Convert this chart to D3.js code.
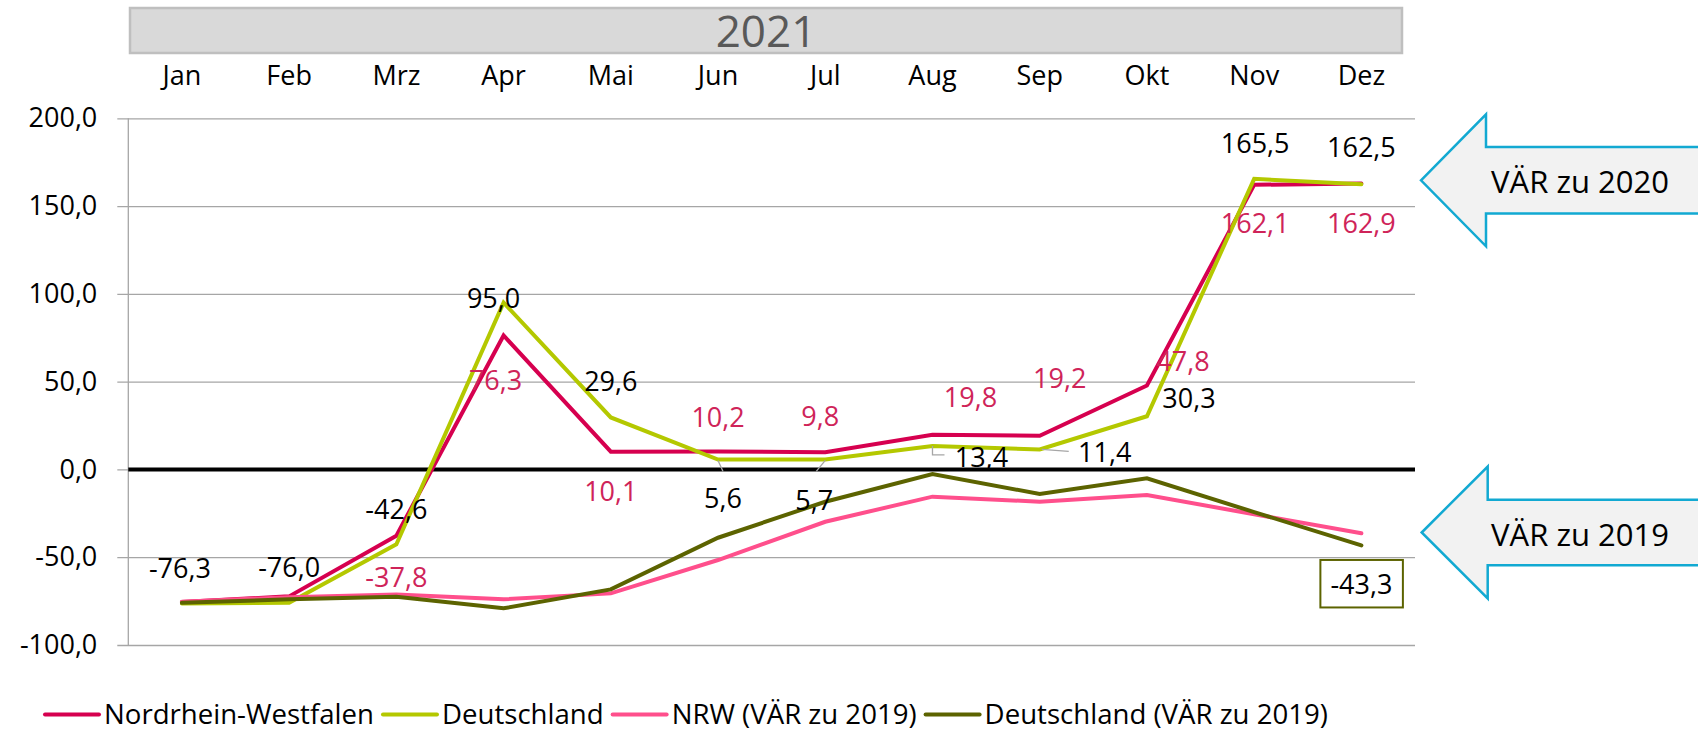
<!DOCTYPE html>
<html>
<head>
<meta charset="utf-8">
<script src="https://cdn.jsdelivr.net/npm/d3@7/dist/d3.min.js"></script>
<style>
  html, body { margin: 0; padding: 0; background: #ffffff; }
  svg { display: block; font-family: "Open Sans", "Noto Sans", sans-serif; }
</style>
</head>
<body>
<svg id="chart" width="1698" height="732"></svg>
<script>
// ---------- data ----------
const yearLabel = "2021";
const months = ["Jan", "Feb", "Mrz", "Apr", "Mai", "Jun", "Jul", "Aug", "Sep", "Okt", "Nov", "Dez"];
const seriesNames = ["Nordrhein-Westfalen", "Deutschland", "NRW (VÄR zu 2019)", "Deutschland (VÄR zu 2019)"];
const nrwValues = [-75.5, -72.3, -37.8, 76.3, 10.1, 10.2, 9.8, 19.8, 19.2, 47.8, 162.1, 162.9];
const deValues = [-76.3, -76.0, -42.6, 95.0, 29.6, 5.6, 5.7, 13.4, 11.4, 30.3, 165.5, 162.5];
const nrw2019Values = [-75.3, -72.8, -71.2, -74.0, -70.6, -51.6, -29.8, -15.5, -18.4, -14.6, -25.5, -36.4];
const de2019Values = [-76.0, -74.0, -72.5, -79.1, -68.3, -38.9, -18.4, -2.6, -14.0, -5.1, -24.3, -43.3];
const yTicks = [200, 150, 100, 50, 0, -50, -100];
const arrowTexts = ["VÄR zu 2020", "VÄR zu 2019"];

// ---------- layout / style ----------
const W = 1698, H = 732;
const plot = { left: 128.3, right: 1415, top: 118.3, bottom: 645 };
const colors = ["#d6004f", "#b4c800", "#ff4f8c", "#5c6300"];
const labelColors = ["#cf2459", "#000000"];
const font = "'Open Sans', 'Noto Sans', sans-serif";
const fs = 27;

// label offsets relative to the point [dx, dy] (index -> offset)
const nrwLabelOffsets = {2: [0, 41.5], 3: [-8, 45], 4: [0, 40], 5: [0, -34], 6: [-5, -36], 7: [38, -37], 8: [20, -57], 9: [36, -24], 10: [1, 38.5], 11: [0, 40]};
const deLabelOffsets = {0: [-2, -35], 1: [0, -36], 2: [0, -35], 3: [-10, -4], 4: [0, -36], 5: [5, 39], 6: [-11, 41], 7: [49, 11], 8: [65, 3], 9: [42, -18], 10: [1, -36], 11: [0, -37]};
const deLeaders = {5: [[0, 1], [5, 12]], 6: [[0, 1], [-9, 12]], 7: [[0, 0], [0, 9], [12, 9]], 8: [[2, 0], [29, 2]]};

const svg = d3.select("#chart");
svg.append("rect").attr("width", W).attr("height", H).attr("fill", "#ffffff");

const x = d3.scaleBand().domain(months).range([plot.left, plot.right]).padding(0);
const y = d3.scaleLinear().domain([-100, 200]).range([plot.bottom, plot.top]);
const cx = m => x(m) + x.bandwidth() / 2;

const loc = d3.formatLocale({decimal: ",", thousands: ".", grouping: [3], currency: ["", "€"], minus: "-"});
const fmt = loc.format(".1f");

// ---------- title box ----------
svg.append("rect")
  .attr("x", 130).attr("y", 8).attr("width", 1272).attr("height", 45)
  .attr("fill", "#d9d9d9").attr("stroke", "#bfbfbf").attr("stroke-width", 2.5);
svg.append("text")
  .attr("x", (130 + 1402) / 2).attr("y", 31).attr("dy", "0.36em")
  .attr("text-anchor", "middle")
  .attr("font-family", font).attr("font-size", 44).attr("fill", "#595959")
  .text(yearLabel);

// ---------- month labels ----------
const xAxis = svg.append("g")
  .attr("transform", `translate(0, 95)`)
  .call(d3.axisTop(x).tickSize(0).tickPadding(10));
xAxis.select(".domain").remove();
xAxis.selectAll("text").attr("font-family", font).attr("font-size", fs).attr("fill", "#000");

// ---------- y axis + grid ----------
const yAxis = svg.append("g")
  .attr("transform", `translate(${plot.right}, 0)`)
  .call(d3.axisLeft(y).tickValues(yTicks).tickFormat(fmt)
    .tickSizeInner(plot.right - 117.3).tickSizeOuter(0).tickPadding(20));
yAxis.select(".domain").remove();
yAxis.selectAll(".tick line").attr("stroke", "#a6a6a6").attr("stroke-width", 1.3);
yAxis.selectAll(".tick text").attr("font-family", font).attr("font-size", fs).attr("fill", "#000");

svg.append("line")
  .attr("x1", plot.left).attr("x2", plot.left)
  .attr("y1", y(200)).attr("y2", y(-100))
  .attr("stroke", "#a6a6a6").attr("stroke-width", 1.3);

svg.append("line")
  .attr("x1", plot.left).attr("x2", plot.right)
  .attr("y1", y(0)).attr("y2", y(0))
  .attr("stroke", "#000").attr("stroke-width", 4);

// ---------- lines ----------
const allSeries = [nrwValues, deValues, nrw2019Values, de2019Values];
const line = d3.line().x((d, i) => cx(months[i])).y(d => y(d));
allSeries.forEach((vals, k) => {
  svg.append("path")
    .datum(vals)
    .attr("d", line)
    .attr("fill", "none")
    .attr("stroke", colors[k])
    .attr("stroke-width", 4)
    .attr("stroke-linejoin", "miter")
    .attr("stroke-linecap", "round");
});

// ---------- leader lines ----------
Object.entries(deLeaders).forEach(([i, pts]) => {
  const px = cx(months[+i]), py = y(deValues[+i]);
  svg.append("path")
    .attr("d", d3.line()(pts.map(p => [px + p[0], py + p[1]])))
    .attr("fill", "none").attr("stroke", "#a6a6a6").attr("stroke-width", 1.3);
});

// ---------- data labels ----------
function addLabels(vals, offsets, color) {
  Object.entries(offsets).forEach(([i, off]) => {
    const idx = +i;
    svg.append("text")
      .attr("x", cx(months[idx]) + off[0])
      .attr("y", y(vals[idx]) + off[1])
      .attr("dy", "0.36em")
      .attr("text-anchor", "middle")
      .attr("font-family", font).attr("font-size", fs)
      .attr("fill", color)
      .text(fmt(vals[idx]));
  });
}
addLabels(nrwValues, nrwLabelOffsets, labelColors[0]);
addLabels(deValues, deLabelOffsets, labelColors[1]);

// boxed label for last value of Deutschland (VÄR zu 2019)
{
  const last = de2019Values.length - 1;
  const bx = cx(months[last]), by = y(de2019Values[last]) + 38;
  svg.append("rect")
    .attr("x", bx - 41).attr("y", by - 23.5).attr("width", 82.5).attr("height", 47.5)
    .attr("fill", "#fff").attr("stroke", colors[3]).attr("stroke-width", 2);
  svg.append("text")
    .attr("x", bx).attr("y", by + 1).attr("dy", "0.36em")
    .attr("text-anchor", "middle")
    .attr("font-family", font).attr("font-size", fs).attr("fill", "#000")
    .text(fmt(de2019Values[last]));
}

// ---------- arrows ----------
function arrow(tipX, tipY, baseX, headHalf, shaftHalf, label) {
  const pts = [
    [tipX, tipY], [baseX, tipY - headHalf], [baseX, tipY - shaftHalf], [W + 20, tipY - shaftHalf],
    [W + 20, tipY + shaftHalf], [baseX, tipY + shaftHalf], [baseX, tipY + headHalf]
  ];
  svg.append("polygon")
    .attr("points", pts.map(p => p.join(",")).join(" "))
    .attr("fill", "#f2f2f2").attr("stroke", "#12a9d2").attr("stroke-width", 2.5);
  svg.append("text")
    .attr("x", 1580).attr("y", tipY + 2).attr("dy", "0.36em")
    .attr("text-anchor", "middle")
    .attr("font-family", font).attr("font-size", 31).attr("fill", "#000")
    .text(label);
}
arrow(1421, 180.3, 1486, 66, 33.3, arrowTexts[0]);
arrow(1421.7, 532.5, 1487.7, 66, 32.7, arrowTexts[1]);

// ---------- legend ----------
const legend = svg.append("g");
let lx = 45;
const ly = 714.5;
seriesNames.forEach((name, k) => {
  legend.append("line")
    .attr("x1", lx).attr("x2", lx + 54).attr("y1", ly).attr("y2", ly)
    .attr("stroke", colors[k]).attr("stroke-width", 4).attr("stroke-linecap", "round");
  const t = legend.append("text")
    .attr("x", lx + 59).attr("y", ly).attr("dy", "0.36em")
    .attr("font-family", font).attr("font-size", 27.6).attr("fill", "#000")
    .text(name);
  lx = lx + 59 + t.node().getComputedTextLength() + 9;
});
</script>
</body>
</html>
